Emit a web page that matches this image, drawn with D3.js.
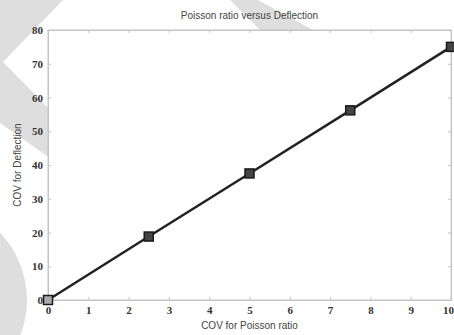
<!DOCTYPE html>
<html>
<head>
<meta charset="utf-8">
<script src="https://cdn.jsdelivr.net/npm/d3@7"></script>
<style>
  body { margin: 0; background: #fff; }
  svg { display: block; }
</style>
</head>
<body>
<div id="chart"></div>
<script>
// data
const covPoisson = [0, 2.5, 5, 7.5, 10];
const covDeflection = [0, 18.8, 37.5, 56.2, 75];
const xTicks = [0, 1, 2, 3, 4, 5, 6, 7, 8, 9, 10];
const yTicks = [0, 10, 20, 30, 40, 50, 60, 70, 80];

const width = 454, height = 335;
const margin = { top: 30, right: 3, bottom: 35, left: 48 };
const innerW = width - margin.left - margin.right;
const innerH = height - margin.top - margin.bottom;

const svg = d3.select('#chart')
    .append('svg')
    .attr('width', width)
    .attr('height', height);

// faint watermark shapes behind everything
const wm = svg.append('g').style('fill', '#dedede');
wm.append('path').attr('d', 'M0,0 L63,0 L3,62 L70,130 L70,172 L0,123 Z');
wm.append('path').attr('d', 'M230,0 L258,0 L313,30 L260,30 Z');
wm.append('circle').attr('cx', -70).attr('cy', 300).attr('r', 97);

const x = d3.scaleLinear().domain([0, 10]).range([0, innerW]);
const y = d3.scaleLinear().domain([0, 80]).range([innerH, 0]);

const g = svg.append('g')
    .attr('transform', `translate(${margin.left},${margin.top})`);

g.append('rect')
    .attr('width', innerW)
    .attr('height', innerH)
    .style('fill', '#fff')
    .style('stroke', '#c4c4c4')
    .style('stroke-width', 1);

const tickLen = 3;
const axisColor = '#c4c4c4';

// inward ticks on all four sides
const xAxis = d3.axisBottom(x).tickValues(xTicks).tickSize(-tickLen).tickPadding(6).tickFormat(d3.format('d'));
const xAxisTop = d3.axisTop(x).tickValues(xTicks).tickSize(-tickLen).tickFormat('');
const yAxis = d3.axisLeft(y).tickValues(yTicks).tickSize(-tickLen).tickPadding(5).tickFormat(d3.format('d'));
const yAxisRight = d3.axisRight(y).tickValues(yTicks).tickSize(-tickLen).tickFormat('');

const axes = g.append('g');
axes.append('g').attr('class', 'x-axis').attr('transform', `translate(0,${innerH})`).call(xAxis);
axes.append('g').attr('class', 'x-axis-top').call(xAxisTop);
axes.append('g').attr('class', 'y-axis').call(yAxis);
axes.append('g').attr('class', 'y-axis-right').attr('transform', `translate(${innerW},0)`).call(yAxisRight);

axes.selectAll('.domain').style('stroke', axisColor);
axes.selectAll('.tick line').style('stroke', axisColor);
axes.selectAll('.tick text')
    .attr('font-family', null)
    .style('font-family', '"Liberation Serif", "DejaVu Serif", serif')
    .style('font-size', '11px')
    .style('font-weight', 'bold')
    .style('fill', '#333');
// last x label sits on the page edge; pull it in a little
axes.select('.x-axis').selectAll('.tick text')
    .filter(d => d === 10)
    .attr('dx', -3);

// line + square markers
const valueLine = d3.line()
    .x((d, i) => x(covPoisson[i]))
    .y(d => y(d));

g.append('path')
    .datum(covDeflection)
    .attr('d', valueLine)
    .style('fill', 'none')
    .style('stroke', '#222')
    .style('stroke-width', 2.5);

const ms = 9;
g.selectAll('.marker')
    .data(covDeflection)
    .enter()
    .append('rect')
    .attr('class', 'marker')
    .attr('x', (d, i) => x(covPoisson[i]) - ms / 2)
    .attr('y', d => y(d) - ms / 2)
    .attr('width', ms)
    .attr('height', ms)
    .style('fill', (d, i) => i === 0 ? '#aaa' : '#444')
    .style('stroke', '#1a1a1a')
    .style('stroke-width', 1.5);

// titles
const labelFont = '"Liberation Sans", Arial, sans-serif';
svg.append('text')
    .attr('x', margin.left + innerW / 2)
    .attr('y', 19)
    .style('text-anchor', 'middle')
    .style('font-family', labelFont)
    .style('font-size', '10px')
    .style('fill', '#444')
    .text('Poisson ratio versus Deflection');

svg.append('text')
    .attr('x', margin.left + innerW / 2)
    .attr('y', 329)
    .style('text-anchor', 'middle')
    .style('font-family', labelFont)
    .style('font-size', '10px')
    .style('fill', '#444')
    .text('COV for Poisson ratio');

svg.append('text')
    .attr('transform', `translate(21,${margin.top + innerH / 2}) rotate(-90)`)
    .style('text-anchor', 'middle')
    .style('font-family', labelFont)
    .style('font-size', '10px')
    .style('fill', '#444')
    .text('COV for Deflection');
</script>
</body>
</html>
